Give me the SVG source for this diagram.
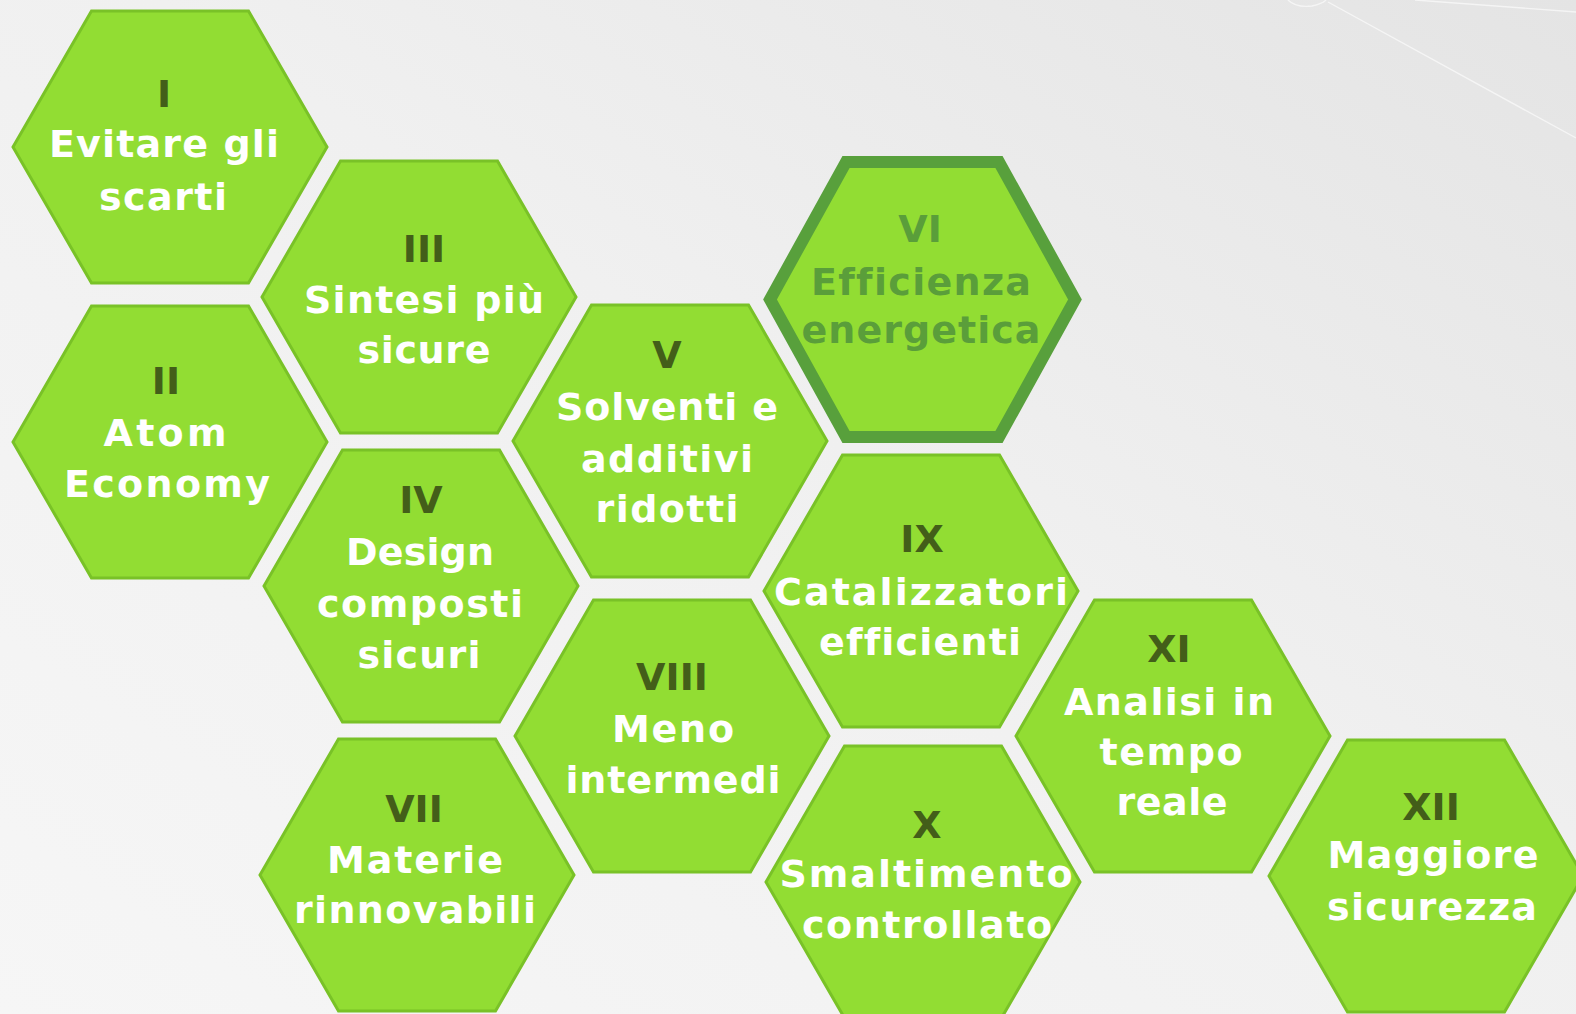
<svg xmlns="http://www.w3.org/2000/svg" width="1576" height="1014" viewBox="0 0 1576 1014">
  <defs>
    <linearGradient id="bg" x1="0" y1="1" x2="1" y2="0">
      <stop offset="0" stop-color="#f6f6f6"/>
      <stop offset="0.55" stop-color="#f0f0f0"/>
      <stop offset="1" stop-color="#e4e4e4"/>
    </linearGradient>
    <!-- flat-top regular hexagon, centred on the origin -->
    <polygon id="hex" points="-157,0 -78.5,-136 78.5,-136 157,0 78.5,136 -78.5,136"/>
    <style>
      .cell { fill: #92dd33; stroke: #79c227; stroke-width: 3; stroke-linejoin: miter; }
      .cell-hi { fill: #92dd33; stroke: #58a03c; stroke-width: 12; stroke-linejoin: miter; }
      text { font-family: "DejaVu Sans", "Noto Sans", sans-serif; font-weight: bold; font-size: 38px; text-anchor: middle; font-variant-ligatures: none; }
      .num { fill: #435e19; }
      .lbl { fill: #ffffff; }
      .hi { fill: #5a9e3a; }
      .deco { fill: none; stroke: #ffffff; stroke-width: 1.4; opacity: 0.6; }
    </style>
  </defs>

  <!-- background -->
  <rect x="0" y="0" width="1576" height="1014" fill="url(#bg)"/>
  <g id="decoration">
    <path class="deco" d="M1288,0 Q1296,8 1312,6 Q1322,4 1326,0"/>
    <path class="deco" d="M1328,2 L1576,138"/>
    <path class="deco" d="M1415,0 L1576,12"/>
  </g>

  <!-- the connectors group (this diagram has none) -->
  <g id="connectors"/>

  <g id="node-I">
    <use href="#hex" class="cell" transform="translate(170,147)"/>
    <text class="num" x="164" y="107">I</text>
    <text class="lbl" x="164" y="157" textLength="230" lengthAdjust="spacing">Evitare gli</text>
    <text class="lbl" x="163" y="210" textLength="128" lengthAdjust="spacing">scarti</text>
  </g>

  <g id="node-II">
    <use href="#hex" class="cell" transform="translate(170,442)"/>
    <text class="num" x="166" y="394">II</text>
    <text class="lbl" x="165" y="446" textLength="123" lengthAdjust="spacing">Atom</text>
    <text class="lbl" x="167" y="497" textLength="206" lengthAdjust="spacing">Economy</text>
  </g>

  <g id="node-III">
    <use href="#hex" class="cell" transform="translate(419,297)"/>
    <text class="num" x="424" y="262">III</text>
    <text class="lbl" x="424" y="313" textLength="240" lengthAdjust="spacing">Sintesi più</text>
    <text class="lbl" x="424" y="363" textLength="133" lengthAdjust="spacing">sicure</text>
  </g>

  <g id="node-IV">
    <use href="#hex" class="cell" transform="translate(421,586)"/>
    <text class="num" x="421" y="513">IV</text>
    <text class="lbl" x="420" y="565" textLength="148" lengthAdjust="spacing">Design</text>
    <text class="lbl" x="420" y="617" textLength="206" lengthAdjust="spacing">composti</text>
    <text class="lbl" x="419" y="668" textLength="123" lengthAdjust="spacing">sicuri</text>
  </g>

  <g id="node-V">
    <use href="#hex" class="cell" transform="translate(670,441)"/>
    <text class="num" x="667" y="368">V</text>
    <text class="lbl" x="667" y="420" textLength="222" lengthAdjust="spacing">Solventi e</text>
    <text class="lbl" x="667" y="472" textLength="172" lengthAdjust="spacing">additivi</text>
    <text class="lbl" x="667" y="522" textLength="143" lengthAdjust="spacing">ridotti</text>
  </g>

  <g id="node-VI">
    <polygon class="cell-hi" points="770,299.5 846,162 999,162 1075,299.5 999,437 846,437"/>
    <text class="hi" x="920" y="242">VI</text>
    <text class="hi" x="921" y="295" textLength="220" lengthAdjust="spacing">Efficienza</text>
    <text class="hi" x="921" y="343" textLength="239" lengthAdjust="spacing">energetica</text>
  </g>

  <g id="node-VII">
    <use href="#hex" class="cell" transform="translate(417,875)"/>
    <text class="num" x="414" y="822">VII</text>
    <text class="lbl" x="415" y="873" textLength="176" lengthAdjust="spacing">Materie</text>
    <text class="lbl" x="415" y="923" textLength="242" lengthAdjust="spacing">rinnovabili</text>
  </g>

  <g id="node-VIII">
    <use href="#hex" class="cell" transform="translate(672,736)"/>
    <text class="num" x="672" y="690">VIII</text>
    <text class="lbl" x="673" y="742" textLength="122" lengthAdjust="spacing">Meno</text>
    <text class="lbl" x="673" y="793" textLength="215" lengthAdjust="spacing">intermedi</text>
  </g>

  <g id="node-IX">
    <use href="#hex" class="cell" transform="translate(921,591)"/>
    <text class="num" x="922" y="552">IX</text>
    <text class="lbl" x="921" y="605" textLength="294" lengthAdjust="spacing">Catalizzatori</text>
    <text class="lbl" x="920" y="655" textLength="202" lengthAdjust="spacing">efficienti</text>
  </g>

  <g id="node-X">
    <use href="#hex" class="cell" transform="translate(923,882)"/>
    <text class="num" x="927" y="838">X</text>
    <text class="lbl" x="926" y="887" textLength="293" lengthAdjust="spacing">Smaltimento</text>
    <text class="lbl" x="927" y="938" textLength="250" lengthAdjust="spacing">controllato</text>
  </g>

  <g id="node-XI">
    <use href="#hex" class="cell" transform="translate(1173,736)"/>
    <text class="num" x="1169" y="662">XI</text>
    <text class="lbl" x="1169" y="715" textLength="210" lengthAdjust="spacing">Analisi in</text>
    <text class="lbl" x="1171" y="765" textLength="143" lengthAdjust="spacing">tempo</text>
    <text class="lbl" x="1172" y="815" textLength="111" lengthAdjust="spacing">reale</text>
  </g>

  <g id="node-XII">
    <use href="#hex" class="cell" transform="translate(1426,876)"/>
    <text class="num" x="1431" y="820">XII</text>
    <text class="lbl" x="1433" y="868" textLength="211" lengthAdjust="spacing">Maggiore</text>
    <text class="lbl" x="1432" y="920" textLength="210" lengthAdjust="spacing">sicurezza</text>
  </g>
</svg>
